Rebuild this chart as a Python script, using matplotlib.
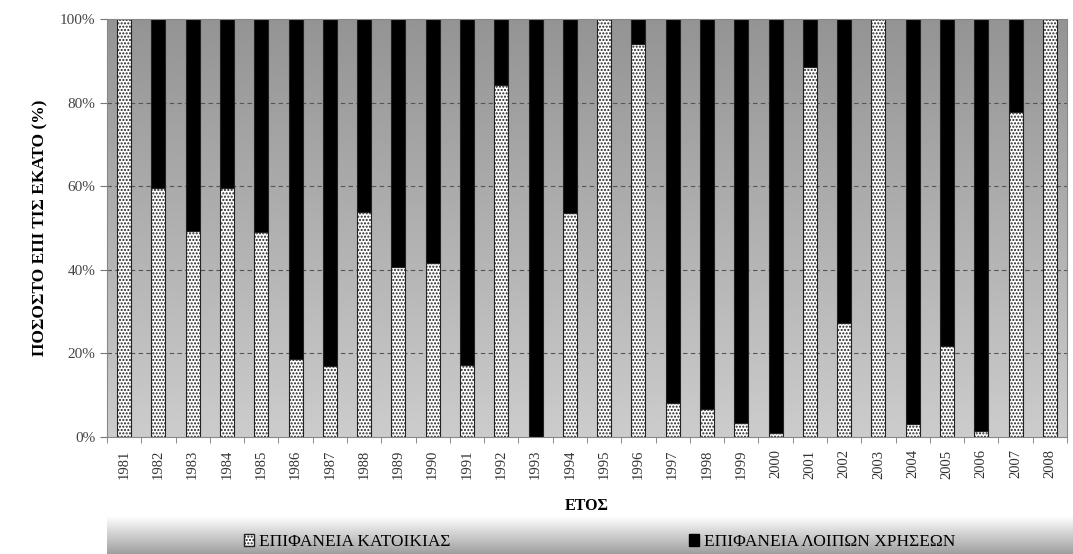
import numpy as np
import matplotlib
matplotlib.use('Agg')
import matplotlib.pyplot as plt
from matplotlib.patches import Patch

# ----------------------------------------------------------------------------
# DATA
# ----------------------------------------------------------------------------
years = [str(y) for y in range(1981, 2009)]
katoikias = [100, 59.5, 49.3, 59.5, 49.0, 18.7, 17.0, 53.8, 40.7, 41.6,
             17.2, 84.3, 0.0, 53.6, 100, 94.0, 8.1, 6.7, 3.3, 1.0,
             88.5, 27.3, 100, 3.0, 21.8, 1.5, 77.8, 100]
loipon = [0.0, 40.5, 50.7, 40.5, 51.0, 81.3, 83.0, 46.2, 59.3, 58.4,
          82.8, 15.7, 100, 46.4, 0.0, 6.0, 91.9, 93.3, 96.7, 99.0,
          11.5, 72.7, 0.0, 97.0, 78.2, 98.5, 22.2, 0.0]
yticks = [0, 20, 40, 60, 80, 100]
label_kat = 'ΕΠΙΦΑΝΕΙΑ ΚΑΤΟΙΚΙΑΣ'
label_loip = 'ΕΠΙΦΑΝΕΙΑ ΛΟΙΠΩΝ ΧΡΗΣΕΩΝ'

plt.rcParams['font.family'] = ['Liberation Serif', 'DejaVu Serif']
plt.rcParams['hatch.linewidth'] = 1.0

W, H = 1073, 554
fig = plt.figure(figsize=(W / 100, H / 100), dpi=100)
ax = fig.add_axes([107 / W, (H - 437) / H, (1067 - 107) / W, 418 / H])

x = np.arange(len(years))
ax.set_xlim(-0.5, len(years) - 0.5)
ax.set_ylim(0, 100)

# fond en dégradé (foncé en haut, clair en bas)
grad = np.linspace(0.58, 0.80, 256).reshape(-1, 1)
ax.imshow(grad, extent=[-0.5, len(years) - 0.5, 0, 100], aspect='auto',
          cmap='gray', vmin=0, vmax=1, zorder=0, interpolation='bicubic')

for yv in yticks[1:-1]:
    ax.axhline(yv, color='#555555', linestyle=(0, (4, 3)), linewidth=0.8, zorder=1)

bw = 0.41
b1 = ax.bar(x, katoikias, width=bw, color='white', edgecolor='#222222',
            hatch='.....', linewidth=0.8, zorder=2)
b2 = ax.bar(x, loipon, width=bw, bottom=katoikias, color='black',
            edgecolor='#222222', linewidth=0.8, zorder=2)

ax.set_xticks(x)
ax.set_xticklabels(years, rotation=90, fontsize=10.5, color='#333333')
ax.set_xticks(np.arange(-0.5, len(years), 1), minor=True)
ax.tick_params(axis='x', which='major', length=0, pad=9)
ax.tick_params(axis='x', which='minor', length=4, color='#777777')
ax.set_yticks(yticks)
ax.set_yticklabels([f'{v}%' for v in yticks], fontsize=11, color='#444444')
ax.tick_params(axis='y', length=5, color='#777777')
for s in ax.spines.values():
    s.set_color('#888888')
    s.set_linewidth(0.8)

ax.set_xlabel('ΕΤΟΣ', fontsize=11.5, fontweight='bold', labelpad=14)
ax.set_ylabel('ΠΟΣΟΣΤΟ ΕΠΙ ΤΙΣ ΕΚΑΤΟ (%)', fontsize=12.5, fontweight='bold', labelpad=8)

# bande de légende en bas
lax = fig.add_axes([107 / W, 0, (W - 107) / W, 38 / H])
lgrad = np.linspace(1.0, 0.62, 256).reshape(-1, 1)
lax.imshow(lgrad, extent=[0, 1, 0, 1], aspect='auto', cmap='gray',
           vmin=0, vmax=1, interpolation='bicubic')
lax.set_xlim(0, 1)
lax.set_ylim(0, 1)
lax.axis('off')
handles = [Patch(facecolor='white', edgecolor='#222222', hatch='.....', label=label_kat),
           Patch(facecolor='black', edgecolor='black', label=label_loip)]
lax.legend(handles=handles, loc='center', ncol=2, frameon=False, fontsize=12.5,
           handlelength=0.6, handleheight=0.7, handletextpad=0.3,
           columnspacing=13.7, bbox_to_anchor=(0.51, 0.32))

plt.savefig('out.png', dpi=100)
